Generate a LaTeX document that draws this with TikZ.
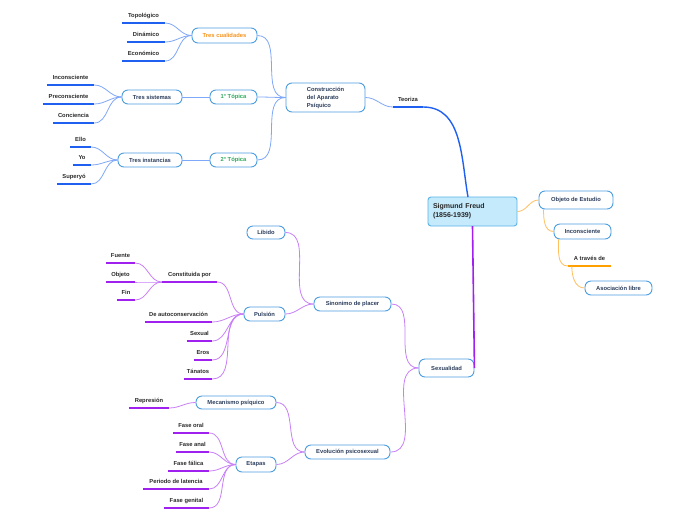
\documentclass[tikz,border=0pt]{standalone}
\usepackage{fontspec}
\setmainfont{Liberation Sans}
\usetikzlibrary{calc}
\definecolor{boxline}{HTML}{4A9EE0}
\definecolor{boxtext}{HTML}{2C3E5C}
\definecolor{freudfill}{HTML}{C5EAFC}
\definecolor{freudline}{HTML}{5AB4E8}
\definecolor{blueul}{HTML}{2060F0}
\definecolor{bluethin}{HTML}{80A8F8}
\definecolor{purpleul}{HTML}{A020F0}
\definecolor{purplethin}{HTML}{C880F8}
\definecolor{orangeul}{HTML}{FFA000}
\definecolor{orangethin}{HTML}{FFC060}
\definecolor{greentxt}{HTML}{2EAA5A}
\definecolor{orangetxt}{HTML}{F7941D}
\definecolor{labeltxt}{HTML}{2A2A2A}
\tikzset{
  fnt/.style={font=\bfseries\fontsize{5.8}{8}\selectfont},
  topicbox/.style={fnt, draw=boxline, line width=0.9pt, fill=white, rounded corners=6pt,
    text=boxtext, inner sep=0pt},
  lbl/.style={fnt, text=labeltxt, anchor=south, inner xsep=0pt, inner ysep=0pt,
    text height=4pt, text depth=5pt},
  ulblue/.style={draw=blueul, line width=1.8pt},
  ulpurple/.style={draw=purpleul, line width=1.8pt},
  ulorange/.style={draw=orangeul, line width=1.8pt},
  cblue/.style={draw=bluethin, line width=0.8pt},
  cpurple/.style={draw=purplethin, line width=0.8pt},
  corange/.style={draw=orangethin, line width=0.8pt},
}
\newcommand{\tbox}[6]{\node[topicbox, minimum width=#4pt, minimum height=#5pt] (#1) at (#2,-#3) {#6};}
\newcommand{\ulab}[6]{\node[lbl, minimum width=#4pt-#3pt] (#1) at ({(#3+#4)/2},-#5) {#6};}
\begin{document}
\begin{tikzpicture}[x=1pt,y=1pt]
\useasboundingbox (0,0) rectangle (696,-520);
\fill[white] (0,0) rectangle (696,-520);

% central
\node[fnt, font=\bfseries\fontsize{7}{9}\selectfont, draw=freudline, line width=0.9pt, fill=freudfill,
  rounded corners=3pt, minimum width=89pt, minimum height=29pt, text width=79pt, align=left,
  inner xsep=5pt, text=black!85] (freud) at (472.5,-211.5) {Sigmund Freud\\(1856-1939)};

% top subtree
\ulab{teoriza}{0}{393}{423}{107}{Teoriza}
\node[topicbox, minimum width=79pt, minimum height=29pt, align=left] (constr) at (325.5,-97.5)
  {Construcción\\del Aparato\\Psíquico};
\tbox{tcual}{224.5}{35.5}{65}{15}{\textcolor{orangetxt}{Tres cualidades}}
\tbox{top1}{233.5}{97}{47}{14}{\textcolor{greentxt}{1° Tópica}}
\tbox{top2}{233.5}{160}{47}{14}{\textcolor{greentxt}{2° Tópica}}
\tbox{tsist}{152}{97}{60}{14}{Tres sistemas}
\tbox{tinst}{150}{160}{64}{14}{Tres instancias}
\ulab{topol}{0}{122}{165}{23}{Topológico}
\ulab{dinam}{0}{127}{165}{42}{Dinámico}
\ulab{econ}{0}{122}{165}{61}{Económico}
\ulab{inc}{0}{47}{94}{85}{Inconsciente}
\ulab{precons}{0}{43}{94}{104}{Preconsciente}
\ulab{concien}{0}{53}{94}{123}{Conciencia}
\ulab{ello}{0}{70}{91}{147}{Ello}
\ulab{yo}{0}{73}{91}{165}{Yo}
\ulab{super}{0}{57}{91}{184}{Superyó}

% right subtree
\tbox{objeto}{576}{200}{74}{18}{Objeto de Estudio}
\tbox{incons}{582.5}{231.5}{57}{15}{Inconsciente}
\ulab{atraves}{0}{568}{611}{266}{A través de}
\tbox{asoc}{618.5}{288}{67}{14}{Asociación libre}

% bottom subtree
\tbox{sexual}{446.5}{368}{55}{18}{Sexualidad}
\tbox{sinon}{352.5}{304}{77}{14}{Sinonimo de placer}
\tbox{libido}{266}{232.5}{38}{13}{Libido}
\tbox{pulsion}{264.5}{314}{41}{14}{Pulsión}
\ulab{constit}{0}{162}{217}{282}{Constituida por}
\ulab{fuente}{0}{106}{135}{263}{Fuente}
\ulab{objeto2}{0}{106}{135}{282}{Objeto}
\ulab{fin}{0}{117}{135}{300}{Fin}
\ulab{autocons}{0}{145}{212}{322}{De autoconservación}
\ulab{sexual2}{0}{187}{212}{341}{Sexual}
\ulab{eros}{0}{194}{212}{360}{Eros}
\ulab{tanat}{0}{184}{212}{379}{Tánatos}
\tbox{evol}{347.5}{452}{85}{14}{Evolución psicosexual}
\tbox{mecan}{236}{402.5}{80}{13}{Mecanismo psíquico}
\tbox{etapas}{256}{464.5}{40}{15}{Etapas}
\ulab{repres}{0}{129}{169}{408}{Represión}
\ulab{foral}{0}{173}{209}{433}{Fase oral}
\ulab{fanal}{0}{176}{209}{452}{Fase anal}
\ulab{ffal}{0}{168}{209}{471}{Fase fálica}
\ulab{lat}{0}{143}{209}{489}{Periodo de latencia}
\ulab{fgen}{0}{164}{209}{508}{Fase genital}

% underlines
\foreach \n in {teoriza,topol,dinam,econ,inc,precons,concien,ello,yo,super}
  \draw[ulblue] (\n.south west) -- (\n.south east);
\draw[ulorange] (atraves.south west) -- (atraves.south east);
\foreach \n in {constit,fuente,objeto2,fin,autocons,sexual2,eros,tanat,repres,foral,fanal,ffal,lat,fgen}
  \draw[ulpurple] (\n.south west) -- (\n.south east);

% main branches
\coordinate (freudtop) at (468,-197);
\coordinate (freudbot) at (472.5,-226);
\draw[draw=blueul, line width=1.4pt] (teoriza.south east) to[out=0,in=100] (freudtop);
\draw[draw=purpleul, line width=1.6pt] (freudbot) -- (sexual.east);
\draw[corange] (freud.east) to[out=0,in=180] (objeto.west);

% blue connectors
\draw[cblue] (constr.east) to[out=0,in=180] (teoriza.south west);
\foreach \c in {tcual,top1,top2}
  \draw[cblue] (constr.west) to[out=180,in=0] (\c.east);
\draw[cblue] (top1.west) -- (tsist.east);
\draw[cblue] (top2.west) -- (tinst.east);
\foreach \c in {topol,dinam,econ}
  \draw[cblue] (tcual.west) to[out=180,in=0] (\c.south east);
\foreach \c in {inc,precons,concien}
  \draw[cblue] (tsist.west) to[out=180,in=0] (\c.south east);
\foreach \c in {ello,yo,super}
  \draw[cblue] (tinst.west) to[out=180,in=0] (\c.south east);

% orange connectors
\draw[corange] ($(objeto.south west)+(5,0)$) to[out=-90,in=180] (incons.west);
\draw[corange] ($(incons.south west)+(5,0)$) to[out=-90,in=180] (atraves.south west);
\draw[corange] ($(atraves.south west)+(4,0)$) to[out=-90,in=180] (asoc.west);

% purple connectors
\draw[cpurple] (sexual.west) to[out=180,in=0] (sinon.east);
\draw[cpurple] (sexual.west) to[out=180,in=0] (evol.east);
\draw[cpurple] (sinon.west) to[out=180,in=0] (libido.east);
\draw[cpurple] (sinon.west) to[out=180,in=0] (pulsion.east);
\foreach \c in {constit,autocons,sexual2,eros,tanat}
  \draw[cpurple] (pulsion.west) to[out=180,in=0] (\c.south east);
\foreach \c in {fuente,objeto2,fin}
  \draw[cpurple] (constit.south west) to[out=180,in=0] (\c.south east);
\draw[cpurple] (evol.west) to[out=180,in=0] (mecan.east);
\draw[cpurple] (evol.west) to[out=180,in=0] (etapas.east);
\draw[cpurple] (mecan.west) to[out=180,in=0] (repres.south east);
\foreach \c in {foral,fanal,ffal,lat,fgen}
  \draw[cpurple] (etapas.west) to[out=180,in=0] (\c.south east);
\end{tikzpicture}
\end{document}
